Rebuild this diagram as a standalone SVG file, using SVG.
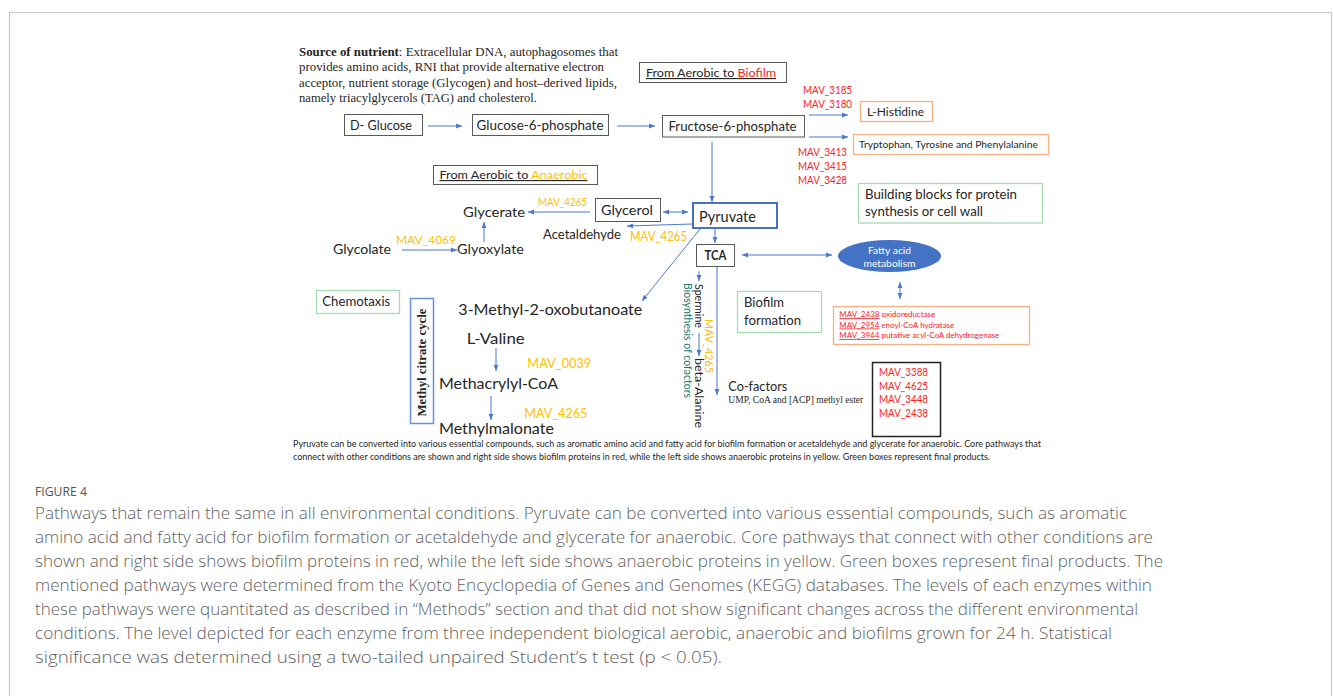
<svg xmlns="http://www.w3.org/2000/svg" width="1333" height="696" viewBox="0 0 1333 696">
<style>
.l{font-family:Lato,"Open Sans","Liberation Sans",sans-serif;fill:#262626}
.s{font-family:"Liberation Serif",serif;fill:#262626}
.box{fill:#fff;stroke:#595959;stroke-width:1}
.gb{fill:#fff;stroke:#a6dbb4;stroke-width:1.3}
.ob{fill:#fff;stroke:#f4b183;stroke-width:1.3}
.red{fill:#ff2020}
.yel{fill:#ffc000}
.cap{font-family:"Open Sans","Liberation Sans",sans-serif;fill:#5f5f5f;font-size:15.5px;font-weight:300}
#connectors path{stroke:#4a78cf;stroke-width:1;fill:none;marker-end:url(#ah)}
#connectors path.d{marker-start:url(#ah)}
</style>
<defs>
<marker id="ah" viewBox="0 0 6 6" refX="6" refY="3" markerWidth="6" markerHeight="6" markerUnits="userSpaceOnUse" orient="auto-start-reverse"><path d="M0,0.6 L6,3 L0,5.4 z" fill="#4a78cf"/></marker>
</defs>
<rect x="0" y="0" width="1333" height="696" fill="#fff"/>
<rect x="9.5" y="12.5" width="1322" height="720" fill="none" stroke="#c8c8c8" stroke-width="1.2"/>

<g id="source-text" class="s" font-size="12.5">
<text x="299" y="56" textLength="319" lengthAdjust="spacingAndGlyphs"><tspan font-weight="bold">Source of nutrient</tspan>: Extracellular DNA, autophagosomes that</text>
<text x="299" y="71" textLength="305" lengthAdjust="spacingAndGlyphs">provides amino acids, RNI that provide alternative electron</text>
<text x="299" y="86.5" textLength="318" lengthAdjust="spacingAndGlyphs">acceptor, nutrient storage (Glycogen) and host–derived lipids,</text>
<text x="299" y="101.5" textLength="238" lengthAdjust="spacingAndGlyphs">namely triacylglycerols (TAG) and cholesterol.</text>
</g>

<g id="connectors">
<path d="M428 126 H462"/>
<path d="M617 126 H655"/>
<path d="M809 115 H848"/>
<path d="M809 137 H848"/>
<path d="M712 142 V202"/>
<path d="M715 229 V243"/>
<path class="d" d="M663 212 H688"/>
<path d="M590 212 H528"/>
<path d="M692 224 L627 226"/>
<path d="M402 250 H457"/>
<path d="M484 242 V222"/>
<path d="M700 229 L642 301"/>
<path d="M496 348 V371"/>
<path d="M491 396 V420"/>
<path class="d" d="M742 255 H832"/>
<path class="d" d="M900 282 V299"/>
<path d="M717 266 V395"/>
<path d="M699 271 V281"/>
<path d="M699 333 V356"/>
</g>

<g id="d-glucose"><rect class="box" x="344.5" y="114.5" width="78" height="21"/><text class="l" x="381" y="130" font-size="13" text-anchor="middle" textLength="62" lengthAdjust="spacingAndGlyphs">D- Glucose</text></g>
<g id="glucose-6-phosphate"><rect class="box" x="472.5" y="114.5" width="136" height="21"/><text class="l" x="540" y="130" font-size="13" text-anchor="middle" textLength="127" lengthAdjust="spacingAndGlyphs">Glucose-6-phosphate</text></g>
<g id="fructose-6-phosphate"><rect class="box" x="662.5" y="115.5" width="142" height="21.5"/><text class="l" x="732.5" y="131" font-size="13.5" text-anchor="middle" textLength="128" lengthAdjust="spacingAndGlyphs">Fructose-6-phosphate</text></g>

<g id="aerobic-biofilm"><rect class="box" x="639.5" y="62.5" width="147" height="20"/><text class="l" x="646" y="77" font-size="11.5" text-decoration="underline" textLength="130" lengthAdjust="spacingAndGlyphs">From Aerobic to <tspan class="red">Biofilm</tspan></text></g>

<g id="mav-histidine" class="l" font-size="11">
<text class="red" x="803" y="94" textLength="49" lengthAdjust="spacingAndGlyphs">MAV_3185</text>
<text class="red" x="803" y="108" textLength="49" lengthAdjust="spacingAndGlyphs">MAV_3180</text>
</g>
<g id="l-histidine"><rect class="ob" x="860.5" y="101.5" width="72" height="20"/><text class="l" x="867" y="115.5" font-size="12" textLength="57" lengthAdjust="spacingAndGlyphs">L-Histidine</text></g>
<g id="aromatic"><rect class="ob" x="853.5" y="134.5" width="195" height="20"/><text class="l" x="859" y="148" font-size="10" textLength="179" lengthAdjust="spacingAndGlyphs">Tryptophan, Tyrosine and Phenylalanine</text></g>
<g id="mav-aromatic" class="l" font-size="11">
<text class="red" x="798" y="156" textLength="49" lengthAdjust="spacingAndGlyphs">MAV_3413</text>
<text class="red" x="798" y="170" textLength="49" lengthAdjust="spacingAndGlyphs">MAV_3415</text>
<text class="red" x="798" y="183.5" textLength="49" lengthAdjust="spacingAndGlyphs">MAV_3428</text>
</g>
<g id="building-blocks"><rect class="gb" x="858.5" y="183.5" width="184" height="39.5"/>
<text class="l" x="865" y="198.5" font-size="12.5" textLength="152" lengthAdjust="spacingAndGlyphs">Building blocks for protein</text>
<text class="l" x="865" y="216" font-size="12.5" textLength="118" lengthAdjust="spacingAndGlyphs">synthesis or cell wall</text></g>

<g id="aerobic-anaerobic"><rect class="box" x="433.5" y="165.5" width="164" height="19"/><text class="l" x="439.5" y="179" font-size="11.5" text-decoration="underline" textLength="148" lengthAdjust="spacingAndGlyphs">From Aerobic to <tspan class="yel">Anaerobic</tspan></text></g>

<g id="pyruvate"><rect x="693" y="203" width="84" height="25" fill="#fff" stroke="#4472c4" stroke-width="2"/><text class="l" x="699" y="222" font-size="14.5" textLength="57" lengthAdjust="spacingAndGlyphs">Pyruvate</text></g>
<g id="glycerol"><rect class="box" x="595.5" y="198.5" width="65" height="23"/><text class="l" x="627" y="214.5" font-size="14" text-anchor="middle" textLength="52" lengthAdjust="spacingAndGlyphs">Glycerol</text></g>
<g id="glycerate"><text class="l" x="463" y="217" font-size="14" textLength="62" lengthAdjust="spacingAndGlyphs">Glycerate</text></g>
<g id="mav-glycerate"><text class="yel" x="538" y="206" font-family="Lato,sans-serif" font-size="11.5" textLength="49" lengthAdjust="spacingAndGlyphs">MAV_4265</text></g>
<g id="acetaldehyde"><text class="l" x="543" y="239" font-size="13.5" textLength="78" lengthAdjust="spacingAndGlyphs">Acetaldehyde</text></g>
<g id="mav-acetaldehyde"><text class="yel" x="630" y="241" font-family="Lato,sans-serif" font-size="13" textLength="57" lengthAdjust="spacingAndGlyphs">MAV_4265</text></g>
<g id="glycolate"><text class="l" x="333" y="254" font-size="13.5" textLength="58" lengthAdjust="spacingAndGlyphs">Glycolate</text></g>
<g id="mav-glycolate"><text class="yel" x="396" y="244" font-family="Lato,sans-serif" font-size="12" textLength="60" lengthAdjust="spacingAndGlyphs">MAV_4069</text></g>
<g id="glyoxylate"><text class="l" x="457" y="254" font-size="13.5" textLength="67" lengthAdjust="spacingAndGlyphs">Glyoxylate</text></g>

<g id="tca"><rect class="box" x="696.5" y="244.5" width="38" height="22"/><text class="l" x="715.5" y="260" font-size="12.5" font-weight="bold" text-anchor="middle" textLength="22" lengthAdjust="spacingAndGlyphs">TCA</text></g>
<g id="fatty-acid"><ellipse cx="889.5" cy="256" rx="51.5" ry="16" fill="#4472c4"/>
<text x="889.5" y="253.5" font-family="Lato,sans-serif" font-size="10" fill="#fff" text-anchor="middle" textLength="43" lengthAdjust="spacingAndGlyphs">Fatty acid</text>
<text x="889.5" y="267" font-family="Lato,sans-serif" font-size="10" fill="#fff" text-anchor="middle" textLength="52" lengthAdjust="spacingAndGlyphs">metabolism</text></g>
<g id="fatty-mav"><rect class="ob" x="833.5" y="306.5" width="196" height="38"/>
<text class="red" x="839.3" y="317" font-family="Lato,sans-serif" font-size="8" textLength="96" lengthAdjust="spacingAndGlyphs"><tspan text-decoration="underline">MAV_2438</tspan> oxidoreductase</text>
<text class="red" x="839.3" y="327.5" font-family="Lato,sans-serif" font-size="8" textLength="115" lengthAdjust="spacingAndGlyphs"><tspan text-decoration="underline">MAV_2954</tspan> enoyl-CoA hydratase</text>
<text class="red" x="839.3" y="338" font-family="Lato,sans-serif" font-size="8" textLength="160" lengthAdjust="spacingAndGlyphs"><tspan text-decoration="underline">MAV_3944</tspan> putative acyl-CoA dehydrogenase</text></g>

<g id="chemotaxis"><rect class="gb" x="316.5" y="290.5" width="83" height="23"/><text class="l" x="322.3" y="306" font-size="12.5" textLength="68" lengthAdjust="spacingAndGlyphs">Chemotaxis</text></g>
<g id="methyl-citrate-cycle"><rect x="410.5" y="298.5" width="23" height="125" fill="#fff" stroke="#6b8fd6" stroke-width="1.5"/>
<text class="s" transform="translate(422,362.5) rotate(-90)" font-size="12" font-weight="bold" text-anchor="middle" dominant-baseline="central" textLength="108" lengthAdjust="spacingAndGlyphs">Methyl citrate cycle</text></g>
<g id="methyl-oxobutanoate"><text class="l" x="458.3" y="315" font-size="15" textLength="184" lengthAdjust="spacingAndGlyphs">3-Methyl-2-oxobutanoate</text></g>
<g id="l-valine"><text class="l" x="466.7" y="344" font-size="15" textLength="58" lengthAdjust="spacingAndGlyphs">L-Valine</text></g>
<g id="mav-valine"><text class="yel" x="527.3" y="368" font-family="Lato,sans-serif" font-size="13" textLength="64" lengthAdjust="spacingAndGlyphs">MAV_0039</text></g>
<g id="methacrylyl-coa"><text class="l" x="439" y="389" font-size="15" textLength="119" lengthAdjust="spacingAndGlyphs">Methacrylyl-CoA</text></g>
<g id="mav-methacrylyl"><text class="yel" x="524.3" y="418" font-family="Lato,sans-serif" font-size="12.5" textLength="63" lengthAdjust="spacingAndGlyphs">MAV_4265</text></g>
<g id="methylmalonate"><text class="l" x="439" y="433.5" font-size="15" textLength="115" lengthAdjust="spacingAndGlyphs">Methylmalonate</text></g>

<g id="cofactor-biosynthesis">
<text class="l" transform="translate(699,284) rotate(90)" font-size="11" dominant-baseline="central" textLength="44" lengthAdjust="spacingAndGlyphs">Spermine</text>
<text class="l" transform="translate(699,358) rotate(90)" font-size="11" dominant-baseline="central" textLength="70" lengthAdjust="spacingAndGlyphs">beta-Alanine</text>
<text transform="translate(688,283) rotate(90)" font-family="Lato,sans-serif" font-size="11" fill="#23786f" dominant-baseline="central" textLength="115" lengthAdjust="spacingAndGlyphs">Biosynthesis of cofactors</text>
<text class="yel" transform="translate(709,319) rotate(90)" font-family="Lato,sans-serif" font-size="11.5" dominant-baseline="central" textLength="54" lengthAdjust="spacingAndGlyphs">MAV_4265</text>
</g>
<g id="biofilm-formation"><rect class="gb" x="737.5" y="291.5" width="84" height="41"/>
<text class="l" x="744" y="307" font-size="13" textLength="40" lengthAdjust="spacingAndGlyphs">Biofilm</text>
<text class="l" x="744" y="324.5" font-size="13" textLength="57" lengthAdjust="spacingAndGlyphs">formation</text></g>
<g id="co-factors"><text class="l" x="728.3" y="391" font-size="13.5" textLength="59" lengthAdjust="spacingAndGlyphs">Co-factors</text>
<text class="s" x="728.3" y="403" font-size="9.5" textLength="135" lengthAdjust="spacingAndGlyphs">UMP, CoA and [ACP] methyl ester</text></g>
<g id="cofactor-mav"><rect x="872.5" y="362.5" width="68" height="74" fill="#fff" stroke="#222" stroke-width="1.5"/>
<text class="red" x="879" y="376" font-family="Lato,sans-serif" font-size="12" textLength="49" lengthAdjust="spacingAndGlyphs">MAV_3388</text>
<text class="red" x="879" y="390" font-family="Lato,sans-serif" font-size="12" textLength="49" lengthAdjust="spacingAndGlyphs">MAV_4625</text>
<text class="red" x="879" y="402.5" font-family="Lato,sans-serif" font-size="12" textLength="49" lengthAdjust="spacingAndGlyphs">MAV_3448</text>
<text class="red" x="879" y="416.5" font-family="Lato,sans-serif" font-size="12" textLength="49" lengthAdjust="spacingAndGlyphs">MAV_2438</text></g>

<g id="inner-caption" class="l" font-size="8.6">
<text x="293" y="447" textLength="748" lengthAdjust="spacingAndGlyphs">Pyruvate can be converted into various essential compounds, such as aromatic amino acid and fatty acid for biofilm formation or acetaldehyde and glycerate for anaerobic. Core pathways that</text>
<text x="293" y="460" textLength="697" lengthAdjust="spacingAndGlyphs">connect with other conditions are shown and right side shows biofilm proteins in red, while the left side shows anaerobic proteins in yellow. Green boxes represent final products.</text>
</g>

<g id="figure-caption">
<text x="35" y="496" font-family="'Open Sans','Liberation Sans',sans-serif" font-size="12.5" fill="#555" textLength="52" lengthAdjust="spacingAndGlyphs">FIGURE 4</text>
<text class="cap" x="35" y="519" textLength="1092" lengthAdjust="spacingAndGlyphs">Pathways that remain the same in all environmental conditions. Pyruvate can be converted into various essential compounds, such as aromatic</text>
<text class="cap" x="35" y="543" textLength="1118" lengthAdjust="spacingAndGlyphs">amino acid and fatty acid for biofilm formation or acetaldehyde and glycerate for anaerobic. Core pathways that connect with other conditions are</text>
<text class="cap" x="35" y="567" textLength="1128" lengthAdjust="spacingAndGlyphs">shown and right side shows biofilm proteins in red, while the left side shows anaerobic proteins in yellow. Green boxes represent final products. The</text>
<text class="cap" x="35" y="591" textLength="1117" lengthAdjust="spacingAndGlyphs">mentioned pathways were determined from the Kyoto Encyclopedia of Genes and Genomes (KEGG) databases. The levels of each enzymes within</text>
<text class="cap" x="35" y="615" textLength="1103" lengthAdjust="spacingAndGlyphs">these pathways were quantitated as described in “Methods” section and that did not show significant changes across the different environmental</text>
<text class="cap" x="35" y="639" textLength="1077" lengthAdjust="spacingAndGlyphs">conditions. The level depicted for each enzyme from three independent biological aerobic, anaerobic and biofilms grown for 24 h. Statistical</text>
<text class="cap" x="35" y="663" textLength="687" lengthAdjust="spacingAndGlyphs">significance was determined using a two-tailed unpaired Student’s t test (p &lt; 0.05).</text>
</g>
</svg>
